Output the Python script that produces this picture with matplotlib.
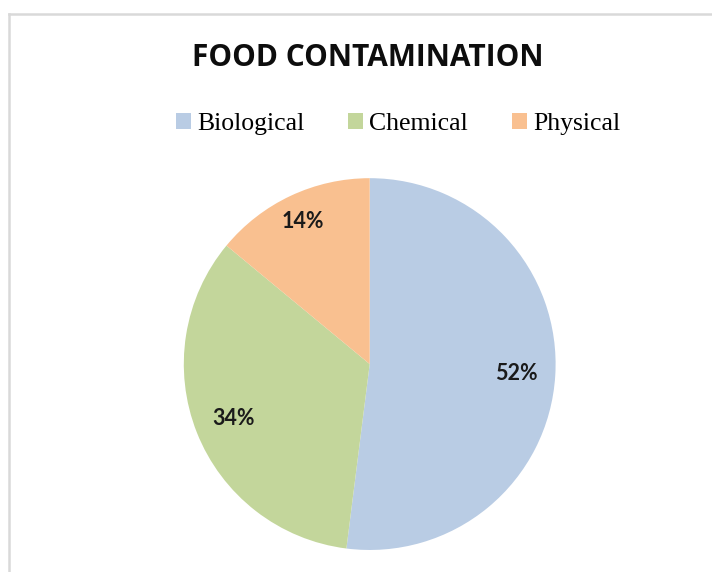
import matplotlib
matplotlib.use('Agg')
import matplotlib.pyplot as plt
from matplotlib.lines import Line2D
from matplotlib.patches import Patch

labels = ['Biological', 'Chemical', 'Physical']
shares = [52, 34, 14]
colors = ['#b9cce4', '#c3d69b', '#f9c090']

fig = plt.figure(figsize=(7.12, 5.72), dpi=100)
fig.patch.set_facecolor('white')

# light grey frame, only top and left edges fall inside the canvas
fig.add_artist(Line2D([8.5/712, 8.5/712], [0, 1 - 13.5/572], transform=fig.transFigure,
                      color='#d9d9d9', lw=1.8))
fig.add_artist(Line2D([8.5/712, 1], [1 - 13.5/572, 1 - 13.5/572], transform=fig.transFigure,
                      color='#d9d9d9', lw=1.8))

ax = fig.add_axes([0.258, 0.0385, 0.5225, 0.650])
wedges, texts, autotexts = ax.pie(shares, colors=colors, startangle=90, counterclock=False,
                                  autopct='%d%%', pctdistance=0.79,
                                  wedgeprops=dict(linewidth=0),
                                  textprops=dict(fontsize=15.5, fontweight='bold',
                                                 family='Lato', color='#1a1a1a'))
# the small slice label sits a little further out
x, y = autotexts[2].get_position()
autotexts[2].set_position((x * 0.85 / 0.79, y * 0.85 / 0.79))
ax.set_xlim(-1, 1)
ax.set_ylim(-1, 1)
ax.set_aspect('equal')

fig.text(368 / 712, 1 - 58 / 572, 'FOOD CONTAMINATION', ha='center', va='center',
         fontsize=21.5, fontweight='bold', family='Open Sans', color='#0d0d0d')

handles = [Patch(facecolor=c, edgecolor='none') for c in colors]
fig.legend(handles, labels, loc='center', bbox_to_anchor=(398 / 712, 1 - 124 / 572),
           ncol=3, frameon=False, handlelength=0.58, handleheight=0.58,
           handletextpad=0.25, columnspacing=1.7,
           prop=dict(family='Liberation Serif', size=18.5))

plt.savefig('out.png', dpi=100)
